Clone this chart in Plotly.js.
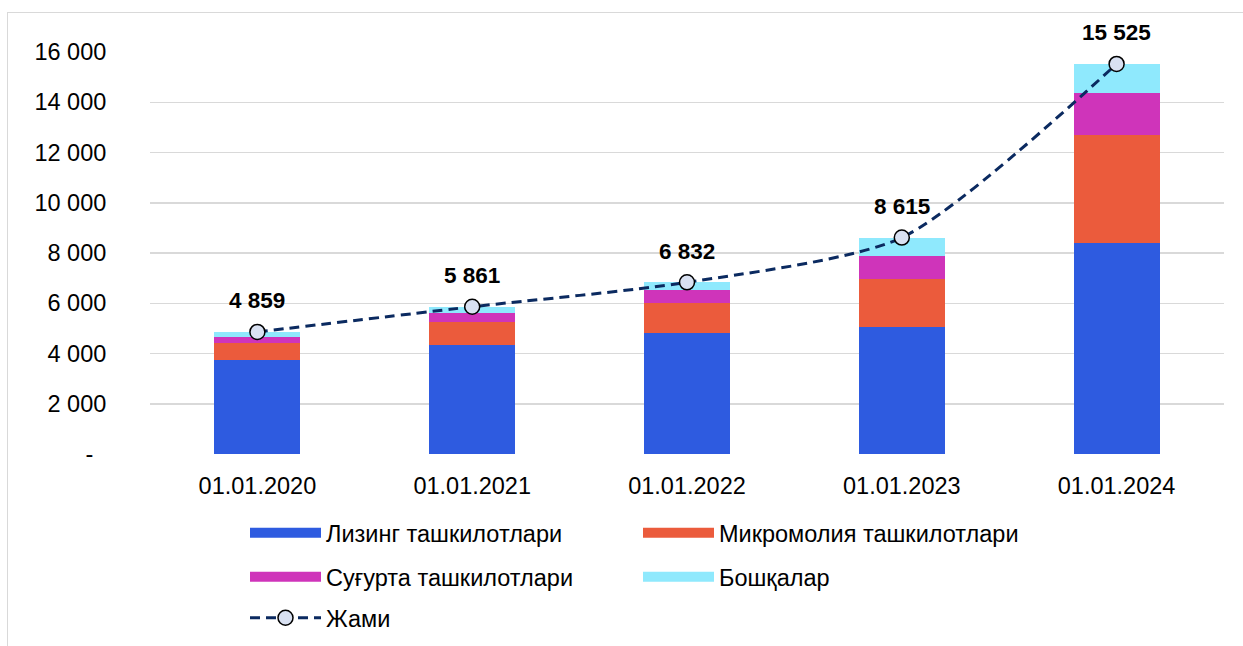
<!DOCTYPE html>
<html>
<head>
<meta charset="utf-8">
<script src="https://cdn.plot.ly/plotly-3.0.1.min.js"></script>
<style>
  html, body { margin:0; padding:0; width:1243px; height:646px; overflow:hidden; background:#fff; }
  #frame { position:absolute; left:7px; top:12px; width:1300px; height:700px; border:1px solid #d9d9d9; box-sizing:border-box; }
  #chart { position:absolute; left:0; top:0; width:1243px; height:646px; }
</style>
</head>
<body>
<div id="frame"></div>
<div id="chart"></div>
<script>
const categories = ['01.01.2020', '01.01.2021', '01.01.2022', '01.01.2023', '01.01.2024'];
const lizing   = [3729, 4338, 4803, 5068, 8385];
const mikro    = [689, 902, 1220, 1897, 4312];
const sugurta  = [239, 359, 504, 929, 1685];
const boshqa   = [202, 262, 305, 721, 1143];
const jami     = [4859, 5861, 6832, 8615, 15525];
const tickVals = [0, 2000, 4000, 6000, 8000, 10000, 12000, 14000, 16000];
const tickText = ['-\u00a0\u00a0', '2 000', '4 000', '6 000', '8 000', '10 000', '12 000', '14 000', '16 000'];
const names = ['Лизинг ташкилотлари', 'Микромолия ташкилотлари', 'Суғурта ташкилотлари', 'Бошқалар', 'Жами'];
const colors = ['#2E5BE0', '#EB5B3C', '#CF34BA', '#8FE9FD'];

const fmt = v => String(v).replace(/\B(?=(\d{3})+(?!\d))/g, ' ');
const FONT = 'Liberation Sans, Arial, sans-serif';

const series = [lizing, mikro, sugurta, boshqa];
const traces = series.map((s, i) => ({
  type: 'bar', x: categories, y: s, name: names[i],
  marker: { color: colors[i], line: { width: 0 } },
  showlegend: false, hoverinfo: 'skip'
}));
// legend entries
const legendOf = ['legend', 'legend', 'legend2', 'legend2'];
series.forEach((s, i) => {
  traces.push({
    type: 'scatter', mode: 'lines', x: [null], y: [null], name: names[i],
    line: { color: colors[i], width: 12 }, legend: legendOf[i], showlegend: true
  });
});
traces.push({
  type: 'scatter', mode: 'lines+markers', x: categories, y: jami, name: names[4],
  line: { color: '#0B2A60', width: 3, dash: '10px,6px', shape: 'spline', smoothing: 0.7 },
  marker: { size: 15, color: '#D9E1F2', line: { color: '#000', width: 1.5 } },
  legend: 'legend3', showlegend: true
});

const annotations = categories.map((c, i) => ({
  x: c, y: jami[i], xref: 'x', yref: 'y', text: fmt(jami[i]), showarrow: false,
  yshift: 31, font: { family: FONT, size: 22.5, color: '#000', weight: 'bold' }
}));

const legBase = {
  orientation: 'h', xanchor: 'left', yanchor: 'middle', x: (245 - 150) / 1074,
  traceorder: 'normal',
  font: { family: FONT, size: 23.5, color: '#000' }, itemwidth: 71,
  entrywidth: 307, entrywidthmode: 'pixels', bgcolor: 'rgba(0,0,0,0)', itemclick: false
};

const layout = {
  width: 1243, height: 646,
  margin: { l: 150, r: 19, t: 52, b: 192, autoexpand: false },
  paper_bgcolor: 'rgba(0,0,0,0)', plot_bgcolor: 'rgba(0,0,0,0)',
  barmode: 'stack', bargap: 0.6,
  font: { family: FONT, size: 23.5, color: '#000' },
  xaxis: {
    type: 'category', showgrid: false, zeroline: false, showline: false,
    ticks: 'outside', ticklen: 11, tickcolor: 'rgba(0,0,0,0)',
    tickfont: { family: FONT, size: 23.5, color: '#000' }
  },
  yaxis: {
    range: [0, 16000], tickvals: tickVals, ticktext: tickText,
    showgrid: true, gridcolor: '#d9d9d9', gridwidth: 1.5, zeroline: false, showline: false,
    ticks: 'outside', ticklen: 38, tickcolor: 'rgba(0,0,0,0)',
    tickfont: { family: FONT, size: 23.5, color: '#000' }
  },
  annotations: annotations,
  showlegend: true,
  legend:  Object.assign({}, legBase, { y: (454 - 533) / 402 }),
  legend2: Object.assign({}, legBase, { y: (454 - 577) / 402 }),
  legend3: Object.assign({}, legBase, { y: (454 - 618) / 402 })
};

Plotly.newPlot('chart', traces, layout, { displayModeBar: false, staticPlot: true });
</script>
</body>
</html>
